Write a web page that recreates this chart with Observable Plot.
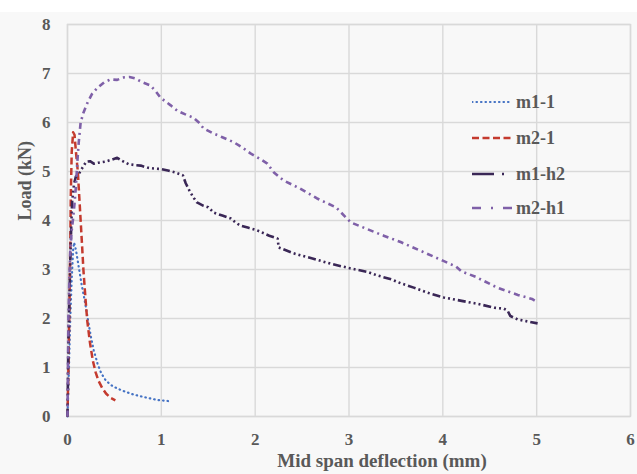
<!DOCTYPE html>
<html><head><meta charset="utf-8">
<script src="https://cdn.jsdelivr.net/npm/d3@7"></script>
<script src="https://cdn.jsdelivr.net/npm/@observablehq/plot@0.6"></script>
<style>
body{margin:0;background:#fff;}
#wrap{position:relative;width:637px;height:474px;background:linear-gradient(#fff 0,#fff 12px,#f8f8f8 12px);font-family:"Liberation Serif","Times New Roman",serif;}
#wrap svg.plot{position:absolute;left:0;top:0;}
.item{position:absolute;left:472px;height:24px;display:flex;align-items:center;white-space:nowrap;font-weight:bold;font-size:18px;color:#595959;}
.item span{margin-left:4px;}
</style></head>
<body><div id="wrap"></div>
<script>
// ---- data ----
const seriesNames = ["m1-1", "m2-1", "m1-h2", "m2-h1"];
const xTicks = [0, 1, 2, 3, 4, 5, 6];
const yTicks = [0, 1, 2, 3, 4, 5, 6, 7, 8];
const xLabel = "Mid span deflection (mm)";
const yLabel = "Load (kN)";

const m11X = [0, 0.01, 0.02, 0.03, 0.045, 0.06, 0.07, 0.09, 0.12, 0.15, 0.19, 0.22, 0.25, 0.28, 0.32, 0.36, 0.41, 0.48, 0.58, 0.7, 0.83, 0.95, 1.1];
const m11Y = [0, 0.6, 1.3, 2.0, 2.8, 3.4, 3.55, 3.4, 3.05, 2.7, 2.3, 1.95, 1.62, 1.35, 1.08, 0.88, 0.73, 0.62, 0.53, 0.45, 0.39, 0.34, 0.31];

const m21X = [0, 0.01, 0.02, 0.03, 0.035, 0.045, 0.06, 0.075, 0.09, 0.11, 0.125, 0.14, 0.155, 0.17, 0.19, 0.21, 0.24, 0.27, 0.3, 0.33, 0.37, 0.41, 0.46, 0.51];
const m21Y = [0, 1.0, 2.2, 3.5, 4.5, 5.4, 5.8, 5.75, 5.4, 5.0, 4.5, 4.0, 3.5, 2.98, 2.45, 1.96, 1.5, 1.14, 0.9, 0.73, 0.58, 0.47, 0.38, 0.33];

const m1h2X = [0, 0.005, 0.01, 0.02, 0.03, 0.04, 0.05, 0.07, 0.09, 0.12, 0.16, 0.2, 0.24, 0.28, 0.33, 0.4, 0.47, 0.53, 0.58, 0.65, 0.72, 0.78, 0.85, 0.92, 1.0, 1.07, 1.15, 1.23, 1.26, 1.31, 1.35, 1.38, 1.45, 1.5, 1.56, 1.65, 1.74, 1.79, 1.84, 1.93, 2.02, 2.15, 2.24, 2.25, 2.41, 2.48, 2.62, 2.8, 3.02, 3.2, 3.3, 3.45, 3.55, 3.69, 3.85, 4.01, 4.2, 4.37, 4.55, 4.65, 4.69, 4.72, 4.8, 5.01];
const m1h2Y = [0, 0.8, 1.6, 2.4, 3.2, 3.9, 4.4, 4.75, 4.9, 4.95, 5.08, 5.2, 5.21, 5.16, 5.18, 5.2, 5.24, 5.28, 5.22, 5.15, 5.13, 5.12, 5.08, 5.06, 5.05, 5.02, 4.98, 4.92, 4.76, 4.57, 4.45, 4.37, 4.3, 4.27, 4.16, 4.1, 4.04, 3.96, 3.9, 3.85, 3.8, 3.69, 3.63, 3.45, 3.33, 3.29, 3.22, 3.12, 3.02, 2.95, 2.88, 2.8, 2.72, 2.63, 2.52, 2.43, 2.36, 2.3, 2.22, 2.2, 2.16, 2.05, 1.98, 1.9];

const m2h1X = [0, 0.005, 0.01, 0.02, 0.03, 0.045, 0.06, 0.075, 0.09, 0.105, 0.12, 0.14, 0.17, 0.21, 0.26, 0.32, 0.39, 0.46, 0.53, 0.6, 0.66, 0.72, 0.8, 0.88, 0.94, 0.99, 1.05, 1.1, 1.17, 1.25, 1.34, 1.4, 1.45, 1.55, 1.65, 1.77, 1.87, 1.95, 2.05, 2.13, 2.2, 2.3, 2.48, 2.66, 2.86, 3.02, 3.2, 3.37, 3.55, 3.8, 4.0, 4.14, 4.2, 4.35, 4.58, 4.8, 4.95, 5.01];
const m2h1Y = [0, 1.0, 2.0, 2.8, 3.4, 3.8, 4.05, 4.35, 4.7, 5.2, 5.6, 6.0, 6.2, 6.39, 6.58, 6.71, 6.82, 6.88, 6.87, 6.92, 6.93, 6.9, 6.82, 6.76, 6.64, 6.51, 6.42, 6.35, 6.24, 6.17, 6.1, 6.0, 5.88, 5.78, 5.7, 5.6, 5.48, 5.37, 5.26, 5.16, 4.98, 4.82, 4.65, 4.45, 4.27, 3.96, 3.82, 3.69, 3.56, 3.35, 3.18, 3.06, 2.96, 2.85, 2.63, 2.48, 2.4, 2.33];

// ---- styles ----
const colors = ["#4472c4", "#c43a2e", "#3a2756", "#7f60a8"];
const lineDash = ["0.5 4", "7 3.5", "8 3 2 3 2 3 2 3", "6 4 2 4"];
const lineCaps = ["round", "butt", "butt", "butt"];
const lineWidths = [2.2, 2.5, 2.6, 2.6];
const legendDash = ["0.5 4", "7 3.5", "22 8 2 8", "9 10 2 10"];
const legendTop = [90, 126, 162, 196];

const seriesXY = [[m11X, m11Y], [m21X, m21Y], [m1h2X, m1h2Y], [m2h1X, m2h1Y]];
const tables = seriesXY.map(([xs, ys], i) => xs.map((x, j) => ({series: seriesNames[i], x, y: ys[j]})));

const grid = "#d9d9d9";
const plot = Plot.plot({
  width: 637, height: 474,
  marginLeft: 67, marginRight: 7, marginTop: 24, marginBottom: 58,
  style: {background: "transparent", fontFamily: "'Liberation Serif','Times New Roman',serif", fontWeight: "bold", fontSize: "17px", color: "#595959"},
  x: {domain: [0, 6]},
  y: {domain: [0, 8]},
  marks: [
    Plot.gridX(xTicks, {stroke: grid, strokeOpacity: 1, strokeWidth: 1.4}),
    Plot.gridY(yTicks, {stroke: grid, strokeOpacity: 1, strokeWidth: 1.4}),
    Plot.frame({stroke: grid, strokeWidth: 1.4}),
    Plot.axisX(xTicks, {tickSize: 0, tickPadding: 16, label: null, tickFormat: d => String(d)}),
    Plot.axisY(yTicks, {tickSize: 0, tickPadding: 17, label: null, tickFormat: d => String(d)}),
    ...tables.map((t, i) => Plot.line(t, {x: "x", y: "y", stroke: colors[i], strokeWidth: lineWidths[i], strokeDasharray: lineDash[i], strokeLinecap: lineCaps[i], curve: "linear"})),
    Plot.text([xLabel], {text: d => d, frameAnchor: "bottom", dx: 33, dy: 50, fontSize: 19, fontWeight: "bold", fill: "#595959"}),
    Plot.text([yLabel], {text: d => d, frameAnchor: "left", dx: -42, rotate: -90, fontSize: 18, fontWeight: "bold", fill: "#595959"})
  ]
});
plot.classList.add("plot");
const wrap = document.getElementById("wrap");
wrap.appendChild(plot);

seriesNames.forEach((name, i) => {
  const item = d3.select(wrap).append("div").attr("class", "item").style("top", legendTop[i] + "px");
  const svg = item.append("svg").attr("width", 40).attr("height", 6);
  svg.append("line").attr("x1", 0).attr("x2", 40).attr("y1", 3).attr("y2", 3)
    .attr("stroke", colors[i]).attr("stroke-width", lineWidths[i])
    .attr("stroke-dasharray", legendDash[i]).attr("stroke-linecap", lineCaps[i]);
  item.append("span").text(name);
});
</script>
</body></html>
